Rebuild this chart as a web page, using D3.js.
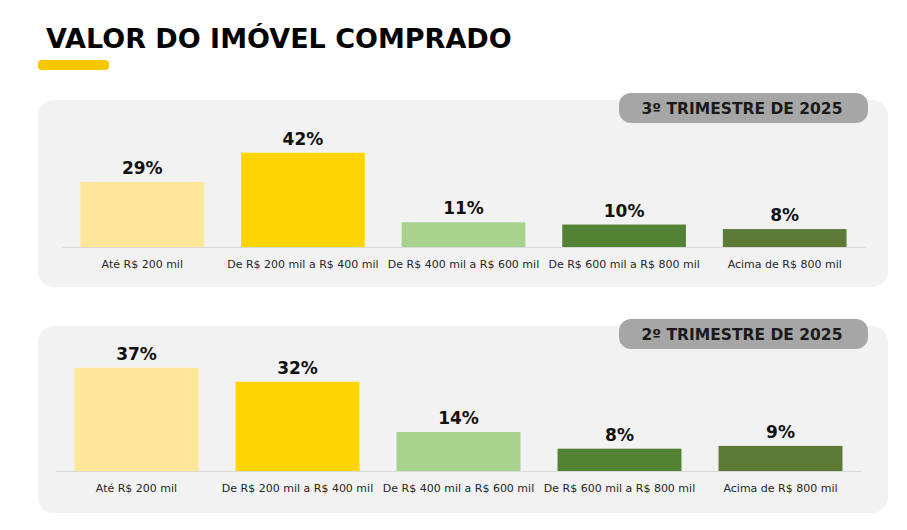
<!DOCTYPE html>
<html>
<head>
<meta charset="utf-8">
<script src="https://cdn.jsdelivr.net/npm/d3@7"></script>
<style>
  body { margin: 0; background: #fff; }
  svg { display: block; }
  text { font-family: "DejaVu Sans", Verdana, sans-serif; }
</style>
</head>
<body>
<script>
// data
const categories = [
    "Até R$ 200 mil",
    "De R$ 200 mil a R$ 400 mil",
    "De R$ 400 mil a R$ 600 mil",
    "De R$ 600 mil a R$ 800 mil",
    "Acima de R$ 800 mil"
];
const q3Values = [29, 42, 11, 10, 8];
const q2Values = [37, 32, 14, 8, 9];
const periodLabels = ["3º TRIMESTRE DE 2025", "2º TRIMESTRE DE 2025"];
const chartTitle = "VALOR DO IMÓVEL COMPRADO";

const barColors = ["#FFE699", "#FFD400", "#A9D18E", "#548235", "#5E7A39"];

const w = 907, h = 530;

let svg = d3.select("body").append("svg")
    .attr("width", w)
    .attr("height", h);

// title
svg.append("text")
    .attr("x", 46)
    .attr("y", 48)
    .attr("font-size", 27)
    .attr("font-weight", "bold")
    .attr("fill", "#000")
    .text(chartTitle);

svg.append("rect")
    .attr("x", 38)
    .attr("y", 60)
    .attr("width", 71)
    .attr("height", 10)
    .attr("rx", 4)
    .attr("fill", "#F7C600");

let colour = d3.scaleOrdinal()
    .domain(categories)
    .range(barColors);

function drawPanel(values, label, top, baseline, x0, x1, yMax, plotH) {
    let g = svg.append("g");

    // panel background
    g.append("rect")
        .attr("x", 38)
        .attr("y", top)
        .attr("width", 850)
        .attr("height", 187)
        .attr("rx", 16)
        .attr("fill", "#F2F2F2");

    // badge
    g.append("rect")
        .attr("x", 619)
        .attr("y", top - 7)
        .attr("width", 249)
        .attr("height", 30)
        .attr("rx", 12)
        .attr("fill", "#A6A6A6");

    g.append("text")
        .attr("x", 742)
        .attr("y", top + 14)
        .attr("text-anchor", "middle")
        .attr("font-size", 15.5)
        .attr("font-weight", "bold")
        .attr("fill", "#1a1a1a")
        .text(label);

    let x = d3.scaleBand()
        .domain(categories)
        .range([x0, x1])
        .paddingInner(0.23)
        .paddingOuter(0.115);

    let y = d3.scaleLinear()
        .domain([0, yMax])
        .range([baseline, baseline - plotH]);

    let rows = categories.map(function (c, i) {
        return { cat: c, value: values[i] };
    });

    g.selectAll(".bar")
        .data(rows)
        .enter()
        .append("rect")
        .attr("class", "bar")
        .attr("x", function (d) { return x(d.cat); })
        .attr("y", function (d) { return y(d.value); })
        .attr("width", x.bandwidth())
        .attr("height", function (d) { return y(0) - y(d.value); })
        .attr("fill", function (d) { return colour(d.cat); });

    g.selectAll(".val")
        .data(rows)
        .enter()
        .append("text")
        .attr("class", "val")
        .attr("x", function (d) { return x(d.cat) + x.bandwidth() / 2; })
        .attr("y", function (d) { return y(d.value) - 8; })
        .attr("text-anchor", "middle")
        .attr("font-size", 17)
        .attr("font-weight", "bold")
        .attr("fill", "#111")
        .text(function (d) { return d.value + "%"; });

    // axis
    let axis = g.append("g")
        .attr("transform", "translate(0," + baseline + ")")
        .call(d3.axisBottom(x).tickSize(0).tickPadding(0));

    axis.select(".domain")
        .attr("stroke", "#D9D9D9")
        .attr("stroke-width", 1);

    axis.selectAll(".tick text")
        .attr("dy", 0)
        .attr("y", 21)
        .attr("font-size", 11)
        .attr("font-family", "DejaVu Sans, Verdana, sans-serif")
        .attr("fill", "#262626");
}

drawPanel(q3Values, periodLabels[0], 100, 247, 62, 865, 45, 101);
drawPanel(q2Values, periodLabels[1], 326, 471, 56, 861, 40, 111.6);
</script>
</body>
</html>
